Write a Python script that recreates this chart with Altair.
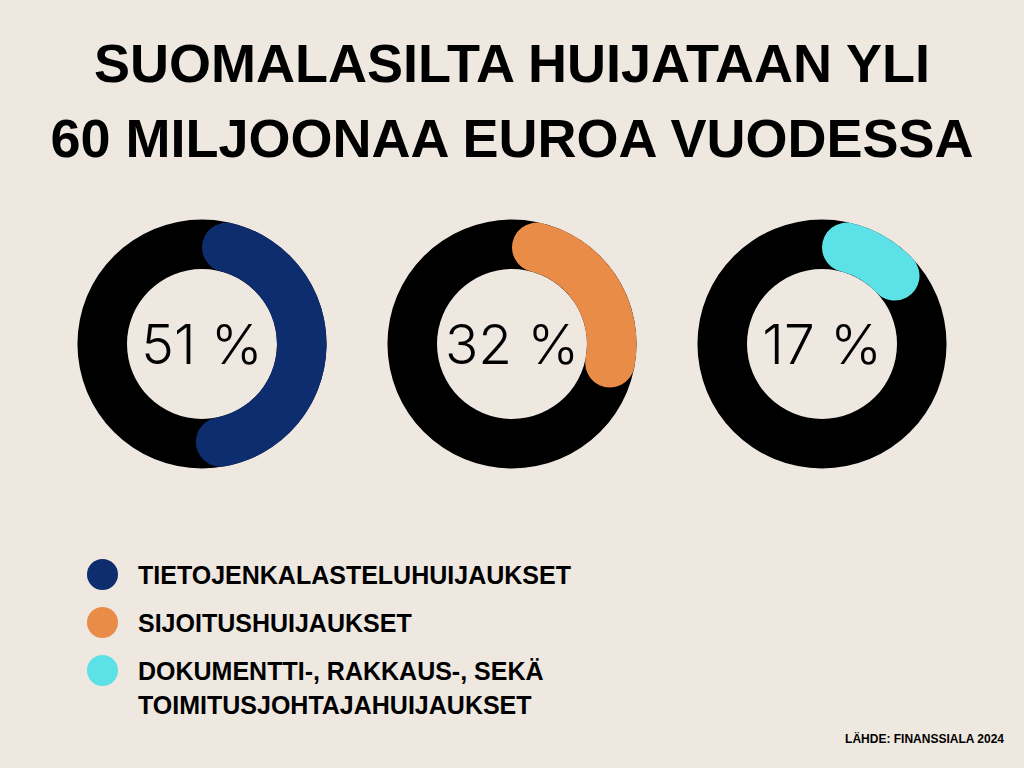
import math
import altair as alt
import pandas as pd

# ---- data ----
categories = ["Tietojenkalastelu", "Sijoitus", "Muut"]
values = [51, 32, 17]
colors = ["#0E2D6E", "#E98C48", "#5CE1E6"]
legend_labels = [
    "TIETOJENKALASTELUHUIJAUKSET",
    "SIJOITUSHUIJAUKSET",
    "DOKUMENTTI-, RAKKAUS-, SEKÄ\nTOIMITUSJOHTAJAHUIJAUKSET",
]
title_lines = ["SUOMALASILTA HUIJATAAN YLI", "60 MILJOONAA EUROA VUODESSA"]
source_text = "LÄHDE: FINANSSIALA 2024"

df = pd.DataFrame({"category": categories, "value": values, "label": legend_labels})

BG = "#EEE8E1"
BOLD = "Liberation Sans"

xs = alt.X("category:N", scale=alt.Scale(type="point", domain=categories, range=[202, 822], padding=0), axis=None)
ys = alt.Y("category:N", scale=alt.Scale(type="point", domain=categories, range=[574.5, 670.5], padding=0), axis=None)
col = alt.Color("category:N", scale=alt.Scale(domain=categories, range=colors), legend=None)

base = alt.Chart(df).transform_calculate(
    t0="0", tfull="2*PI", t1="datum.value/100*2*PI", pct="datum.value + ' %'"
)

track = base.mark_arc(radius=124.5, radius2=75, color="#000000").encode(
    x=xs, y=alt.value(344),
    theta=alt.Theta("t0:Q", scale=None, stack=False),
    theta2="tfull:Q",
)

arc = base.mark_arc(radius=124.5, radius2=75, cornerRadius=25).encode(
    x=xs, y=alt.value(344),
    theta=alt.Theta("t0:Q", scale=None, stack=False),
    theta2="t1:Q",
    color=col,
)

pct = base.mark_text(font="Inter", fontWeight=300, fontSize=55, align="center",
                     baseline="alphabetic", color="#000000").encode(
    x=xs, y=alt.value(364), text="pct:N"
)

leg_dots = base.mark_circle(size=962, opacity=1).encode(
    x=alt.value(102.5), y=ys, color=col
)

leg_text = base.mark_text(font=BOLD, fontWeight="bold", fontSize=25, align="left",
                          baseline="alphabetic", dy=9, lineBreak="\n", lineHeight=34,
                          color="#000000").encode(
    x=alt.value(138), y=ys, text="label:N"
)

one = pd.DataFrame({"k": [0]})
title = alt.Chart(one).mark_text(text=title_lines, font=BOLD, fontWeight="bold", fontSize=54,
                                 align="center", baseline="alphabetic", lineHeight=75,
                                 color="#000000").encode(
    x=alt.value(512), y=alt.value(82)
)

source = alt.Chart(one).mark_text(text=source_text, font=BOLD, fontWeight="bold", fontSize=12,
                                  align="right", baseline="alphabetic", color="#000000").encode(
    x=alt.value(1004), y=alt.value(743)
)

chart = alt.layer(track, arc, pct, leg_dots, leg_text, title, source).properties(
    width=1024, height=768, padding=0, autosize=alt.AutoSizeParams(type="none"),
    background=BG,
).configure_view(stroke=None)

chart.save("out.html", embed_options={"renderer": "svg", "actions": False})
